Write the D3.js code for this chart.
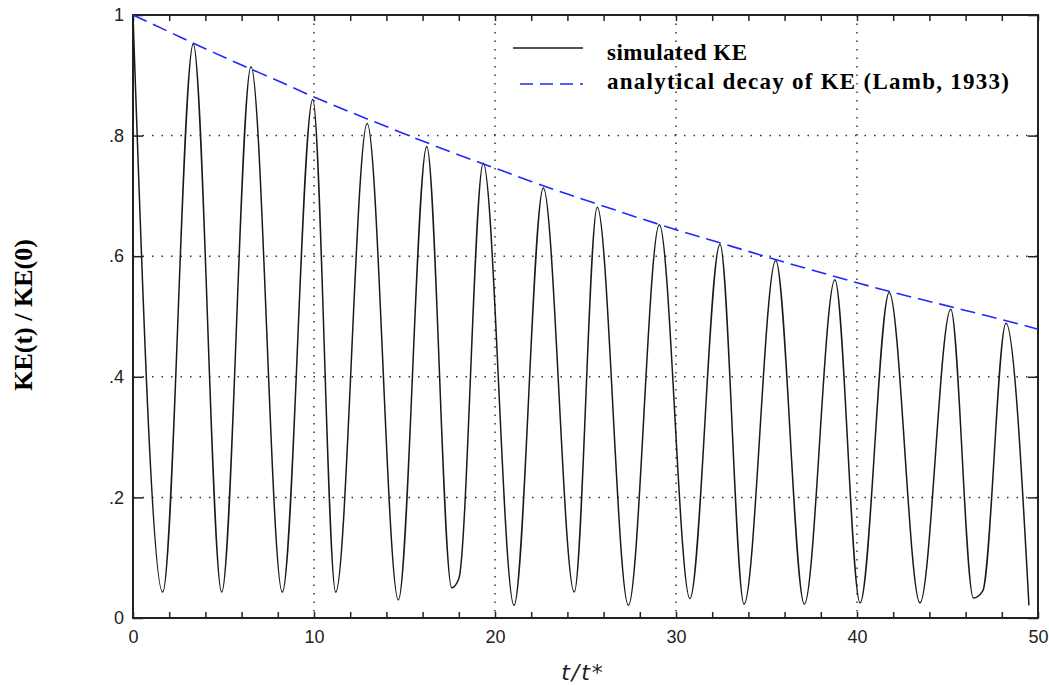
<!DOCTYPE html>
<html>
<head>
<meta charset="utf-8">
<script src="https://cdn.jsdelivr.net/npm/d3@7"></script>
<style>
    body { margin: 0; background: #fff; }
    .tick text { font-family: "Liberation Sans", sans-serif; font-size: 18px; fill: #222; }
    .tick line { stroke: #222; stroke-width: 1.5; }
</style>
</head>
<body>
<script>

// simulated KE, peaks and troughs
var keTime = [0, 1.64, 3.33, 4.90, 6.52, 8.25, 9.93, 11.20, 12.94, 14.66, 16.23, 17.61, 18.00,
    19.35, 21.05, 22.67, 24.38, 25.65, 27.37, 29.08, 30.77, 32.43, 33.76, 35.51, 37.09,
    38.78, 40.17, 41.78, 43.48, 45.18, 46.43, 46.95, 48.23, 49.50];
var keValue = [1.0, 0.043, 0.952, 0.043, 0.914, 0.043, 0.86, 0.043, 0.82, 0.03, 0.782, 0.05, 0.065,
    0.754, 0.021, 0.713, 0.043, 0.681, 0.021, 0.652, 0.032, 0.62, 0.023, 0.593, 0.023,
    0.561, 0.025, 0.54, 0.025, 0.512, 0.033, 0.045, 0.489, 0.021];

// analytical decay (Lamb, 1933)
var decayTime = [0, 2, 4, 6, 8, 10, 12, 14, 16, 18, 20, 22, 24, 26, 28, 30, 32, 34, 36, 38, 40, 42, 44, 46, 48, 50];
var decayValue = [1.0, 0.972, 0.944, 0.917, 0.891, 0.864, 0.839, 0.815, 0.791, 0.768, 0.746, 0.724, 0.703,
    0.683, 0.663, 0.644, 0.626, 0.608, 0.590, 0.573, 0.556, 0.540, 0.525, 0.510, 0.495, 0.479];

var xTicks = [0, 2, 4, 6, 8, 10, 12, 14, 16, 18, 20, 22, 24, 26, 28, 30, 32, 34, 36, 38, 40, 42, 44, 46, 48, 50];
var xGrid = [10, 20, 30, 40];
var yTicks = [0, 0.2, 0.4, 0.6, 0.8, 1];
var yTickLabels = ["0", ".2", ".4", ".6", ".8", "1"];
var yGrid = [0.2, 0.4, 0.6, 0.8];
var legendLabels = ["simulated KE", "analytical decay of KE (Lamb, 1933)"];

function drawChart() {

    var width = 1049, height = 685;
    var left = 133, right = 1038, plotTop = 15, bottom = 618;

    var svg = d3.select("body").append("svg")
        .attr("width", width)
        .attr("height", height);

    var x = d3.scaleLinear().domain([0, 50]).range([left, right]);
    var y = d3.scaleLinear().domain([0, 1]).range([bottom, plotTop]);

    // dotted grid
    svg.selectAll("line.xgrid")
        .data(xGrid)
        .enter()
        .append("line")
        .attr("class", "xgrid")
        .attr("x1", function (d) { return x(d); })
        .attr("x2", function (d) { return x(d); })
        .attr("y1", plotTop)
        .attr("y2", bottom)
        .style("stroke", "#333")
        .style("stroke-width", 1.5)
        .style("stroke-dasharray", "1.5,7");

    svg.selectAll("line.ygrid")
        .data(yGrid)
        .enter()
        .append("line")
        .attr("class", "ygrid")
        .attr("x1", left)
        .attr("x2", right)
        .attr("y1", function (d) { return y(d); })
        .attr("y2", function (d) { return y(d); })
        .style("stroke", "#333")
        .style("stroke-width", 1.5)
        .style("stroke-dasharray", "1.5,8");

    // axes, ticks pointing inward
    svg.append("g")
        .attr("transform", "translate(0," + bottom + ")")
        .call(d3.axisBottom(x).tickValues(xTicks).tickSizeInner(-6).tickSizeOuter(0).tickPadding(12)
            .tickFormat(function (d) { return d % 10 === 0 ? d : ""; }));

    svg.append("g")
        .attr("transform", "translate(0," + plotTop + ")")
        .call(d3.axisTop(x).tickValues(xTicks).tickSizeInner(-6).tickSizeOuter(0).tickFormat(""));

    svg.append("g")
        .attr("transform", "translate(" + left + ",0)")
        .call(d3.axisLeft(y).tickValues(yTicks).tickSizeInner(-10).tickSizeOuter(0).tickPadding(9)
            .tickFormat(function (d, i) { return yTickLabels[i]; }));

    svg.append("g")
        .attr("transform", "translate(" + right + ",0)")
        .call(d3.axisRight(y).tickValues(yTicks).tickSizeInner(-10).tickSizeOuter(0).tickFormat(""));

    svg.selectAll(".domain").remove();

    svg.append("rect")
        .attr("x", left)
        .attr("y", plotTop)
        .attr("width", right - left)
        .attr("height", bottom - plotTop)
        .style("fill", "none")
        .style("stroke", "#222")
        .style("stroke-width", 2);

    // curves
    var decayLine = d3.line()
        .x(function (d, i) { return x(decayTime[i]); })
        .y(function (d) { return y(d); })
        .curve(d3.curveMonotoneX);

    var keLine = d3.line()
        .x(function (d, i) { return x(keTime[i]); })
        .y(function (d) { return y(d); })
        .curve(d3.curveMonotoneX);

    svg.append("path")
        .attr("d", keLine(keValue))
        .style("fill", "none")
        .style("stroke", "#1a1a1a")
        .style("stroke-width", 1.5);

    svg.append("path")
        .attr("d", decayLine(decayValue))
        .style("fill", "none")
        .style("stroke", "#1e28ff")
        .style("stroke-width", 1.6)
        .style("stroke-dasharray", "15,7");

    // legend
    svg.append("line")
        .attr("x1", 513).attr("x2", 583)
        .attr("y1", 48).attr("y2", 48)
        .style("stroke", "#1a1a1a")
        .style("stroke-width", 1.5);

    svg.append("line")
        .attr("x1", 520).attr("x2", 583)
        .attr("y1", 84).attr("y2", 84)
        .style("stroke", "#1e28ff")
        .style("stroke-width", 1.6)
        .style("stroke-dasharray", "13,7");

    var legendWidths = [140, 402];
    svg.selectAll("text.legend")
        .data(legendLabels)
        .enter()
        .append("text")
        .attr("class", "legend")
        .attr("x", 607)
        .attr("y", function (d, i) { return i === 0 ? 60 : 89; })
        .attr("textLength", function (d, i) { return legendWidths[i]; })
        .attr("lengthAdjust", "spacing")
        .style("font-family", "'Liberation Serif', serif")
        .style("font-weight", "bold")
        .style("font-size", "23px")
        .text(function (d) { return d; });

    // axis titles
    svg.append("text")
        .attr("transform", "translate(32,315) rotate(-90)")
        .attr("text-anchor", "middle")
        .style("font-family", "'Liberation Serif', serif")
        .style("font-weight", "bold")
        .style("font-size", "26px")
        .text("KE(t) / KE(0)");

    svg.append("text")
        .attr("x", 583)
        .attr("y", 680)
        .attr("text-anchor", "middle")
        .style("font-family", "'DejaVu Sans', sans-serif")
        .style("font-style", "italic")
        .style("font-size", "22px")
        .style("letter-spacing", "2px")
        .style("fill", "#222")
        .text("t/t*");
}

drawChart();

</script>
</body>
</html>
